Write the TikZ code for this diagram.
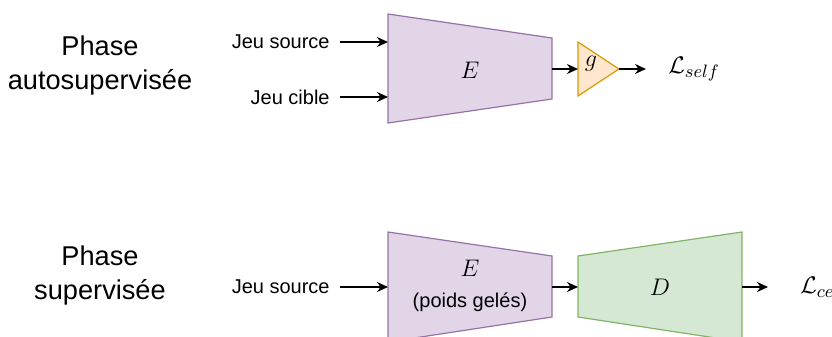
\documentclass[tikz,border=0pt]{standalone}
\usepackage{fontspec}
\setmainfont{Liberation Sans}
\usepackage{amsmath}
\usetikzlibrary{arrows.meta}
\definecolor{encfill}{HTML}{E1D5E7}
\definecolor{encline}{HTML}{9673A6}
\definecolor{decfill}{HTML}{D5E8D4}
\definecolor{decline}{HTML}{82B366}
\definecolor{projfill}{HTML}{FFE6CC}
\definecolor{projline}{HTML}{D79B00}

\begin{document}
\begin{tikzpicture}[
  x=0.5pt,y=-0.5pt,
  every node/.style={font=\fontsize{10}{12}\selectfont},
  phase/.style={align=center,font=\fontsize{13.6}{17}\selectfont},
  inp/.style={anchor=east,inner xsep=5pt,inner ysep=2pt},
  loss/.style={anchor=west,inner xsep=11pt,font=\fontsize{13}{15}\selectfont},
  sym/.style={font=\fontsize{13}{15}\selectfont},
  arr/.style={-{Stealth[length=5.5pt,width=5pt]},line width=0.85pt},
  enc/.style={draw=encline,fill=encfill,line width=0.6pt},
  dec/.style={draw=decline,fill=decfill,line width=0.6pt},
  proj/.style={draw=projline,fill=projfill,line width=0.6pt,line join=miter}
]
\useasboundingbox (0,0) rectangle (832,337);
\clip (0,0) rectangle (832,337);

% phase autosupervisee
\node[phase] (ph1) at (100,65) {Phase\\autosupervisée};
\draw[enc] (388,14) -- (552,38) -- (552,99) -- (388,123) -- cycle;
\coordinate (e1in1) at (388,42);
\coordinate (e1in2) at (388,97);
\coordinate (e1out) at (552,69);
\node[sym] (enc1) at (470,70) {$E$};
\node[inp] (src1) at (340,42) {Jeu source};
\node[inp] (tgt1) at (340,97) {Jeu cible};
\draw[arr] (src1.east) -- (e1in1);
\draw[arr] (tgt1.east) -- (e1in2);
\draw[proj] (578,42) -- (619,69) -- (578,96) -- cycle;
\coordinate (gin) at (578,69);
\coordinate (gtip) at (619,69);
\node[sym] (g) at (591,64) {$g$};
\draw[arr] (e1out) -- (gin);
\node[loss] (lself) at (646,69) {$\mathcal{L}_{self}$};
\draw[arr] (gtip) -- (lself.west);

% phase supervisee
\node[phase] (ph2) at (100,275) {Phase\\supervisée};
\draw[enc] (388,232) -- (552,256) -- (552,317) -- (388,342) -- cycle;
\coordinate (e2in) at (388,287);
\coordinate (e2out) at (552,287);
\node[sym] (enc2) at (470,268) {$E$};
\node (frozen) at (470,302) {(poids gelés)};
\node[inp] (src2) at (340,287) {Jeu source};
\draw[arr] (src2.east) -- (e2in);
\draw[dec] (578,256) -- (742,232) -- (742,342) -- (578,317) -- cycle;
\coordinate (din) at (578,287);
\coordinate (dout) at (742,287);
\node[sym] (dec) at (660,287) {$D$};
\draw[arr] (e2out) -- (din);
\node[loss,inner xsep=16pt] (lce) at (768,287) {$\mathcal{L}_{ce}$};
\draw[arr] (dout) -- (lce.west);
\end{tikzpicture}
\end{document}
